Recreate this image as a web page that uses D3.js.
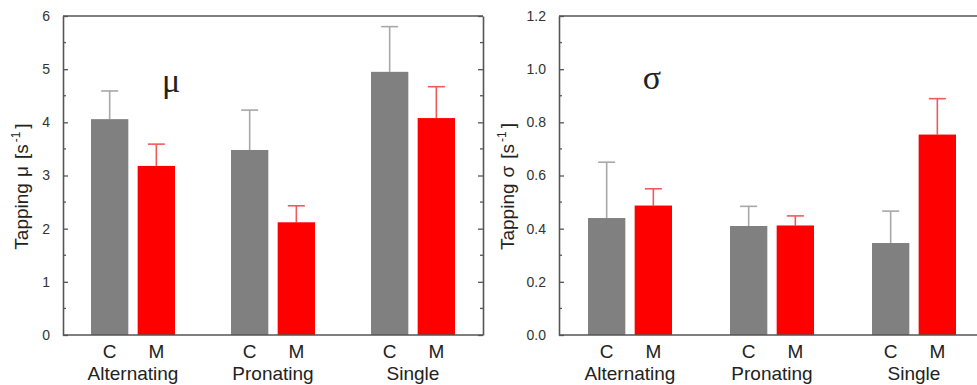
<!DOCTYPE html>
<html>
<head>
<meta charset="utf-8">
<script src="https://cdn.jsdelivr.net/npm/d3@7"></script>
<style>
  body { margin: 0; background: #fff; }
  svg { display: block; font-family: Arial, "Liberation Sans", sans-serif; }
</style>
</head>
<body>
<svg id="chart" width="977" height="385"></svg>
<script>
// Data
const groups = ['Alternating', 'Pronating', 'Single'];
const conditions = ['C', 'M'];

const muC = [4.06, 3.48, 4.95];
const muM = [3.18, 2.12, 4.08];
const muErrC = [0.53, 0.75, 0.85];
const muErrM = [0.41, 0.31, 0.59];

const sigmaC = [0.44, 0.41, 0.346];
const sigmaM = [0.487, 0.412, 0.754];
const sigmaErrC = [0.21, 0.074, 0.12];
const sigmaErrM = [0.063, 0.036, 0.135];

const muTicks = [0, 1, 2, 3, 4, 5, 6];
const sigmaTicks = [0, 0.2, 0.4, 0.6, 0.8, 1.0, 1.2];

const barColor = { C: '#808080', M: '#ff0000' };
const errColor = { C: '#a8a8a8', M: '#f05a5a' };

const svg = d3.select('#chart');

function drawPanel(opts) {
    const g = svg.append('g').attr('transform', `translate(${opts.left},${opts.top})`);
    const w = opts.width, h = opts.height;

    const x0 = d3.scaleBand().domain(groups).range([0, w]);
    const x1 = d3.scaleBand().domain(conditions).range([-42, 42]).paddingInner(0.2);
    const y = d3.scaleLinear().domain(opts.domain).range([h, 0]);

    // one row per bar
    const rows = [];
    groups.forEach((grp, i) => {
        rows.push({ grp: grp, cond: 'C', v: opts.c[i], e: opts.ec[i] });
        rows.push({ grp: grp, cond: 'M', v: opts.m[i], e: opts.em[i] });
    });
    const bx = d => x0(d.grp) + x0.bandwidth() / 2 + x1(d.cond);
    const mid = d => bx(d) + x1.bandwidth() / 2;

    // error bars (upper half only)
    const eb = g.append('g').selectAll('g').data(rows).join('g')
        .attr('stroke', d => errColor[d.cond])
        .attr('stroke-width', 1.6);
    eb.append('line')
        .attr('x1', mid).attr('x2', mid)
        .attr('y1', d => y(d.v))
        .attr('y2', d => y(d.v + d.e));
    eb.append('line')
        .attr('x1', d => mid(d) - 8.5)
        .attr('x2', d => mid(d) + 8.5)
        .attr('y1', d => y(d.v + d.e))
        .attr('y2', d => y(d.v + d.e));

    // bars
    g.append('g').selectAll('rect').data(rows).join('rect')
        .attr('x', bx)
        .attr('width', x1.bandwidth())
        .attr('y', d => y(d.v))
        .attr('height', d => h - y(d.v))
        .attr('fill', d => barColor[d.cond]);

    // minor ticks halfway between the major ones
    const step = opts.ticks[1] - opts.ticks[0];
    const minor = opts.ticks.slice(0, -1).map(t => t + step / 2);

    // left axis
    const left = g.append('g').call(d3.axisLeft(y).tickValues(opts.ticks)
        .tickFormat(opts.fmt).tickSizeInner(-5).tickSizeOuter(0).tickPadding(13));
    left.append('g').selectAll('line').data(minor).join('line')
        .attr('x1', 0).attr('x2', 3).attr('y1', d => y(d)).attr('y2', d => y(d));

    // right axis, ticks only
    const right = g.append('g').attr('transform', `translate(${w},0)`)
        .call(d3.axisRight(y).tickValues(opts.ticks).tickFormat('').tickSizeInner(-5).tickSizeOuter(0));
    right.append('g').selectAll('line').data(minor).join('line')
        .attr('x1', 0).attr('x2', -3).attr('y1', d => y(d)).attr('y2', d => y(d));

    [left, right].forEach(a => {
        a.select('.domain').attr('stroke', '#555').attr('stroke-width', 1.6);
        a.selectAll('line').attr('stroke', '#555').attr('stroke-width', 1.3);
        a.selectAll('text').attr('fill', '#333').attr('font-size', 14)
            .attr('font-family', 'Arial, "Liberation Sans", sans-serif');
    });

    // top and bottom frame
    g.append('line').attr('x1', 0).attr('x2', w).attr('y1', 0).attr('y2', 0)
        .attr('stroke', '#555').attr('stroke-width', 1.6);
    g.append('line').attr('x1', 0).attr('x2', w).attr('y1', h).attr('y2', h)
        .attr('stroke', '#555').attr('stroke-width', 1.6);

    // category labels
    g.append('g').selectAll('text').data(rows).join('text')
        .attr('x', mid)
        .attr('y', h + 23)
        .attr('text-anchor', 'middle')
        .attr('font-size', 19)
        .attr('fill', '#222')
        .text(d => d.cond);
    g.append('g').selectAll('text').data(groups).join('text')
        .attr('x', d => x0(d) + x0.bandwidth() / 2)
        .attr('y', h + 45)
        .attr('text-anchor', 'middle')
        .attr('font-size', 19)
        .attr('fill', '#222')
        .text(d => d);

    // y label
    const yl = g.append('text')
        .attr('transform', `translate(${opts.labelX},${h / 2 + 11}) rotate(-90)`)
        .attr('text-anchor', 'middle')
        .attr('font-size', 19)
        .attr('fill', '#222');
    yl.append('tspan').text('Tapping');
    yl.append('tspan').attr('dx', 6).text(opts.sym);
    yl.append('tspan').attr('dx', 7).text('[s');
    yl.append('tspan').attr('dx', 2).attr('dy', -8).attr('font-size', 12).text('-1');
    yl.append('tspan').attr('dx', 3).attr('dy', 8).text(']');

    // big symbol in the panel
    g.append('text')
        .attr('x', opts.symX).attr('y', opts.symY)
        .attr('text-anchor', 'middle')
        .attr('font-family', '"Liberation Serif", "DejaVu Serif", serif')
        .attr('font-size', 34)
        .attr('fill', '#222')
        .text(opts.sym);
}

drawPanel({
    left: 63, top: 16, width: 420, height: 319,
    domain: [0, 6], ticks: muTicks, fmt: d3.format('d'),
    c: muC, m: muM, ec: muErrC, em: muErrM,
    sym: 'μ', symX: 108, symY: 76, labelX: -35
});

drawPanel({
    left: 559, top: 16, width: 426, height: 319,
    domain: [0, 1.2], ticks: sigmaTicks, fmt: d3.format('.1f'),
    c: sigmaC, m: sigmaM, ec: sigmaErrC, em: sigmaErrM,
    sym: 'σ', symX: 93, symY: 73, labelX: -45
});
</script>
</body>
</html>
